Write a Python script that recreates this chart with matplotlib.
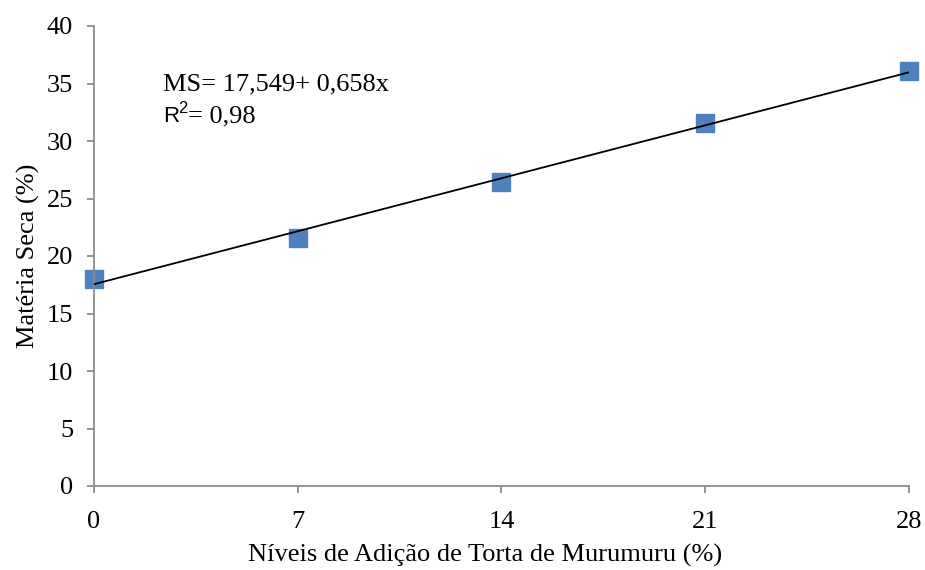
import matplotlib
matplotlib.use("Agg")
import matplotlib.pyplot as plt
import numpy as np

niveis = [0, 7, 14, 21, 28]
materia_seca = [18.0, 21.6, 26.4, 31.6, 36.1]
intercepto = 17.549
inclinacao = 0.658
x_ticks = [0, 7, 14, 21, 28]
y_ticks = [0, 5, 10, 15, 20, 25, 30, 35, 40]

plt.rcParams['font.family'] = ['Liberation Serif', 'DejaVu Serif']
FS = 19
W, H = 925, 570

fig = plt.figure(figsize=(9.25, 5.7), dpi=100)
ax = fig.add_axes([94/W, 1-486/H, (909-94)/W, (486-26)/H])

xl = np.array([niveis[0], niveis[-1]])
ax.plot(xl, intercepto + inclinacao*xl, color='black', lw=1.3, zorder=3)
ax.plot(niveis, materia_seca, 's', color='#4F81BD', markersize=12.5, zorder=2, clip_on=False)

ax.set_xlim(0, 28)
ax.set_ylim(0, 40)
ax.set_xticks(x_ticks)
ax.set_yticks(y_ticks)
for s in ['top', 'right']:
    ax.spines[s].set_visible(False)
for s in ['left', 'bottom']:
    ax.spines[s].set_color('#8c8c8c')
    ax.spines[s].set_linewidth(1.3)
ax.tick_params(axis='both', direction='out', color='#8c8c8c', width=1.3, length=5, labelsize=FS)
ax.tick_params(axis='x', pad=13)
ax.tick_params(axis='y', pad=10)
ax.set_xlabel('Níveis de Adição de Torta de Murumuru (%)', fontsize=FS)
ax.xaxis.set_label_coords((485-94)/(909-94), -(544-486)/(486-26))
ax.set_ylabel('Matéria Seca (%)', fontsize=FS, labelpad=5)

tf = fig.transFigure
ax.text(163/W, 1-90/H, 'MS= 17,549+ 0,658x', transform=tf, fontsize=FS, va='baseline')
ax.text(163/W, 1-122/H, 'R', transform=tf, fontsize=16, va='baseline', family=['Liberation Sans', 'DejaVu Sans'])
ax.text(178/W, 1-113/H, '2', transform=tf, fontsize=12, va='baseline', family=['Liberation Sans', 'DejaVu Sans'])
ax.text(188/W, 1-122/H, '= 0,98', transform=tf, fontsize=FS, va='baseline')

fig.savefig('out.png', dpi=100)
